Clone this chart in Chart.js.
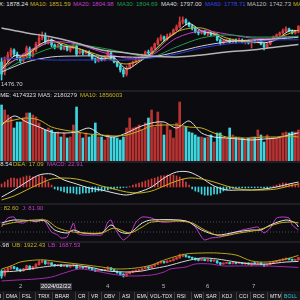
<!DOCTYPE html>
<html>
<head>
<meta charset="utf-8">
<title>K线</title>
<script src="https://cdn.jsdelivr.net/npm/chart.js@4.4.1/dist/chart.umd.min.js"></script>
<style>
html, body { margin: 0; padding: 0; background: #0c0c10; }
#box { position: relative; width: 300px; height: 300px; overflow: hidden; background: #0c0c10;
       font-family: "Liberation Sans", Arial, sans-serif; font-size: 6px; color: #e0e0e0; }
#box canvas { position: absolute; left: 0; }
.t { position: absolute; white-space: nowrap; line-height: 7px; height: 7px; }
.sep { position: absolute; left: 0; width: 300px; height: 2px; background: #1e1e24; }
#tabs { position: absolute; left: 0; top: 291px; width: 300px; height: 9px; background: #17171b; }
.tab { position: absolute; top: 2px; line-height: 7px; white-space: nowrap; color: #e8e8e8;
       transform: scaleX(0.86); transform-origin: 0 0; }
.tabsep { position: absolute; top: 1px; width: 1px; height: 8px; background: #3a3a42; }
</style>
</head>
<body>
<div id="box">
  <canvas id="cMain" width="300" height="76" style="top:12px"></canvas>
  <canvas id="cVol" width="300" height="61" style="top:100px"></canvas>
  <canvas id="cMacd" width="300" height="37" style="top:168px"></canvas>
  <canvas id="cKdj" width="300" height="29" style="top:212px"></canvas>
  <canvas id="cBoll" width="300" height="35" style="top:248px"></canvas>

  <div class="sep" style="top:90px"></div>
  <div class="sep" style="top:161px"></div>
  <div class="sep" style="top:203px"></div>
  <div class="sep" style="top:241px"></div>

  <div class="t" style="top:1px;left:-1px;color:#e0e0e0">X: 1878.24</div>
  <div class="t" style="top:1px;left:30px;color:#c8b21c">MA10: 1851.59</div>
  <div class="t" style="top:1px;left:73px;color:#c63ccc">MA20: 1804.98</div>
  <div class="t" style="top:1px;left:117px;color:#1f9e4a">MA30: 1804.69</div>
  <div class="t" style="top:1px;left:161px;color:#dcdcdc">MA40: 1797.00</div>
  <div class="t" style="top:1px;left:205px;color:#3344e0">MA60: 1778.71</div>
  <div class="t" style="top:1px;left:247px;color:#bdbdbd">MA120: 1742.73</div>
  <div class="t" style="top:1px;left:293px;color:#c8b21c">MA250:</div>
  <div class="t" style="top:81px;left:1px;color:#d0d0d0">1476.70</div>

  <div class="t" style="top:92px;left:-16px;color:#e0e0e0">VOLUME: 4174323</div>
  <div class="t" style="top:92px;left:38px;color:#d8d8d8">MA5: 2180279</div>
  <div class="t" style="top:92px;left:80px;color:#c8b21c">MA10: 1856003</div>

  <div class="t" style="top:161px;left:-16px;color:#e0e0e0">DIF: 28.54</div>
  <div class="t" style="top:161px;left:13px;color:#c8b21c">DEA: 17.09</div>
  <div class="t" style="top:161px;left:47px;color:#c63ccc">MACD: 22.91</div>

  <div class="t" style="top:205px;left:-4px;color:#c8b21c">D: 82.60</div>
  <div class="t" style="top:205px;left:22px;color:#c63ccc">J: 81.90</div>

  <div class="t" style="top:242px;left:-27px;color:#e0e0e0">MID: 1804.98</div>
  <div class="t" style="top:242px;left:12px;color:#c8b21c">UB: 1922.43</div>
  <div class="t" style="top:242px;left:48px;color:#c63ccc">LB: 1687.53</div>

  <div class="t" style="top:283px;left:19px;color:#b8b8b8">2</div>
  <div class="t" style="top:283px;left:40px;color:#f0f0f0;background:#3a3a42;padding:0 1px">2024/02/22</div>
  <div class="t" style="top:283px;left:106px;color:#b8b8b8">4</div>
  <div class="t" style="top:283px;left:162px;color:#b8b8b8">5</div>
  <div class="t" style="top:283px;left:206px;color:#b8b8b8">6</div>
  <div class="t" style="top:283px;left:252px;color:#b8b8b8">7</div>

  <div id="tabs"></div>
</div>
<script>
// daily candles, left to right
const opens = [1612,1537,1627,1665,1702,1672,1642,1627,1650,1710,1657,1702,1747,1792,1807,1762,1777,1740,1725,1740,
  1710,1725,1702,1717,1732,1680,1695,1680,1687,1665,1635,1620,1642,1627,1650,1680,1642,1612,1582,1552,
  1522,1567,1597,1612,1627,1642,1665,1687,1680,1717,1747,1777,1800,1785,1807,1822,1852,1875,1912,1927,
  1905,1882,1867,1837,1830,1845,1822,1830,1815,1815,1777,1755,1770,1777,1762,1777,1770,1777,1762,1770,
  1755,1770,1762,1777,1747,1725,1747,1777,1800,1815,1830,1845,1860,1845,1830,1837];
const closes = [1522,1627,1665,1702,1672,1642,1620,1657,1717,1657,1702,1747,1792,1815,1762,1777,1740,1725,1740,1710,
  1725,1702,1717,1732,1672,1695,1680,1687,1665,1635,1620,1642,1627,1650,1687,1642,1612,1582,1552,1522,
  1567,1597,1612,1627,1642,1665,1687,1680,1717,1747,1777,1800,1785,1807,1822,1852,1875,1912,1927,1905,
  1882,1867,1837,1830,1845,1822,1830,1815,1822,1777,1755,1770,1777,1762,1777,1770,1777,1762,1770,1755,
  1770,1762,1777,1747,1725,1747,1777,1800,1815,1830,1845,1860,1845,1830,1837,1878.24];
const highs = [1642,1650,1687,1717,1710,1687,1657,1672,1732,1725,1710,1762,1822,1837,1830,1800,1785,1747,1747,1747,
  1732,1732,1732,1747,1740,1702,1702,1695,1695,1672,1642,1650,1650,1657,1702,1687,1650,1620,1597,1567,
  1582,1605,1620,1642,1650,1672,1695,1702,1725,1755,1792,1815,1807,1822,1830,1860,1890,1950,1950,1935,
  1912,1890,1875,1852,1852,1852,1837,1837,1830,1822,1785,1777,1785,1785,1785,1785,1792,1785,1777,1777,
  1777,1777,1785,1785,1755,1755,1785,1807,1822,1837,1860,1875,1867,1852,1845,1885];
const lows = [1476.7,1515,1612,1650,1657,1627,1605,1612,1642,1642,1650,1687,1732,1777,1747,1747,1725,1710,1717,1702,
  1702,1695,1687,1710,1657,1672,1665,1672,1657,1627,1605,1612,1620,1620,1642,1635,1605,1575,1537,1500,
  1507,1560,1582,1605,1620,1635,1657,1665,1672,1710,1740,1770,1770,1777,1800,1815,1845,1867,1897,1890,
  1875,1852,1830,1815,1822,1815,1807,1807,1807,1770,1740,1747,1762,1755,1755,1755,1762,1755,1747,1747,
  1717,1755,1755,1740,1702,1717,1740,1770,1792,1807,1822,1837,1837,1822,1822,1830];
const volumes = [4340000,3952500,3565000,3332500,2557500,3022500,3022500,3332500,3720000,3720000,
  3565000,3410000,2945000,2557500,2402500,2557500,2402500,2170000,2247500,1860000,
  2170000,1782500,1860000,2790000,4185000,2170000,1782500,2170000,1860000,2015000,
  2945000,1860000,1860000,1627500,2015000,1860000,1860000,1782500,1627500,1860000,
  2557500,3332500,2557500,2635000,2790000,2402500,2945000,3332500,3952500,2635000,
  3797500,2945000,2015000,2790000,2402500,1782500,2945000,4572500,2635000,2635000,
  2247500,2170000,2015000,1860000,1860000,1782500,1860000,2015000,1472500,2170000,
  2170000,1860000,1782500,2557500,2015000,1860000,1860000,1782500,1627500,1782500,
  1860000,1860000,2402500,2015000,1472500,2015000,1782500,1782500,1782500,1782500,
  2170000,2247500,2170000,2247500,2247500,2402500];

// lines read every few bars
const quarterIdx = [0,4,8,12,16,20,24,28,32,36,40,44,48,52,56,60,64,68,72,76,80,84,88,92,95];
const longIdx = [0,8,16,24,32,40,48,56,64,72,80,88,95];
const ma5 = [1552,1657,1665,1740,1777,1732,1717,1680,1635,1642,1560,1612,1680,1770,1835,1900,1845,1822,1772,1772,1765,1756,1780,1845,1848];
const ma10 = [1575,1672,1762,1717,1657,1597,1672,1837,1867,1792,1762,1792,1851.59];
const ma20 = [1552,1687,1762,1747,1687,1642,1665,1792,1845,1822,1792,1792,1804.98];
const ma30 = [1537,1642,1717,1740,1717,1680,1650,1725,1792,1815,1800,1800,1804.69];
const ma40 = [1537,1612,1650,1657,1657,1650,1650,1687,1732,1762,1777,1785,1797.00];
const ma60 = [1642,1635,1627,1627,1627,1627,1642,1672,1717,1747,1762,1777,1778.71];
const ma120 = [1867,1830,1800,1755,1702,1680,1657,1650,1665,1687,1702,1725,1742.73];

const volMa5 = [2790000,3487500,3022500,2635000,2247500,2170000,2247500,2557500,2015000,1860000,2170000,2635000,2945000,
  3022500,2557500,3100000,2170000,1860000,1782500,1705000,1627500,1705000,1782500,2015000,2180279];
const volMa10 = [2945000,3177500,3332500,3177500,2635000,2402500,2247500,2092500,2015000,1937500,2015000,2325000,2712500,
  2790000,2790000,2635000,2557500,2170000,1860000,1782500,1782500,1860000,1860000,1937500,1856003];

const macdHist = [17,28,40,51,51,46,51,57,63,63,57,57,63,63,51,28,11,-11,-17,-23,
  -28,-34,-34,-34,-40,-40,-34,-34,-34,-28,-28,-23,-23,-17,-17,-11,-11,-6,-6,-3,
  -2,3,11,17,23,28,34,40,46,51,57,63,63,68,68,68,63,57,46,28,
  11,-11,-23,-28,-40,-46,-46,-46,-40,-40,-34,-23,-17,-11,-8,-6,-6,-5,-6,-5,
  -4,-5,-3,-4,-6,-4,-2,6,11,17,23,23,17,17,11,22.91];
const dif = [-57,-17.1,28.5,68.4,74.1,39.9,17.1,-5.7,-17.1,-34.2,-45.6,-28.5,0,51.3,85.5,85.5,51.3,5.7,-17.1,-17.1,-17.1,-11.4,0,17.1,28.54];
const dea = [-74.1,-51.3,-17.1,17.1,45.6,51.3,45.6,28.5,5.7,-11.4,-28.5,-34.2,-22.8,5.7,34.2,51.3,45.6,28.5,5.7,-11.4,-17.1,-17.1,-11.4,5.7,17.09];

const kIdx = [0,4,11,14,17,21,23,26,32,35,38,41,45,48,59,64,69,75,80,83,86,91,94,95];
const kVals = [74,92,86,86,32,14,32,14,14,62,20,14,74,92,86,32,2,20,32,32,62,92,74,50];
const dIdx = [0,5,14,18,23,32,36,41,45,48,60,65,70,76,82,89,93,95];
const dVals = [62,80,92,44,20,14,44,14,50,80,80,32,-4,14,32,74,80,74];
const jIdx = [0,2,4,5,7,9,11,13,14,16,18,19,21,23,24,26,30,32,33,34,35,36,38,39,41,43,45,48,51,54,
  57,60,62,64,65,67,70,74,77,80,82,84,86,88,90,92,93,95];
const jVals = [50,104,110,80,74,92,80,98,80,20,2,-16,-10,74,14,2,2,2,32,80,92,50,-10,-28,2,80,110,104,80,80,
  92,80,50,-10,-28,-16,-10,14,32,44,50,14,44,104,110,104,62,32];

const ubIdx = [0,3,6,11,14,19,27,32,37,43,48,53,59,64,69,75,80,85,91,95];
const ubVals = [1657,1716,1794,1833,1833,1794,1735,1696,1657,1676,1735,1853,1951,1970,1970,1931,1814,1794,1853,1922.43];
const midIdx = [0,5,11,16,21,28,34,41,45,48,53,59,64,69,75,80,85,91,95];
const midVals = [1598,1618,1676,1716,1735,1696,1618,1598,1618,1657,1716,1814,1872,1853,1794,1755,1755,1794,1804.98];
const lbIdx = [0,5,11,16,21,25,30,35,41,48,52,54,59,62,67,71,75,85,95];
const lbVals = [1422,1441,1461,1500,1598,1657,1618,1559,1520,1539,1598,1657,1696,1755,1755,1716,1716,1716,1687.53];

const tabNames = ['DMI','DMA','FSL','TRIX','BRAR','CR','VR','OBV','ASI','EMV','VOL-TDX','RSI','WR','SAR','KDJ','CCI','ROC','MTM','BOLL'];

const N = closes.length;
const bars = closes.map((c, i) => i);
const RED = '#d63b3b', CYAN = '#3dd5de', YELLOW = '#c8b21c', MAGENTA = '#c63ccc', WHITE = '#e4e4e4';
const upDown = closes.map((c, i) => c >= opens[i] ? RED : CYAN);
const volColors = closes.map((c, i) => c >= opens[i] ? '#b83232' : CYAN);

function pts(xs, ys) { return xs.map((x, k) => ({ x: x, y: ys[k] })); }

function line(xs, ys, color, width, tension) {
  return { type: 'line', data: pts(xs, ys), borderColor: color, borderWidth: width || 1,
           pointRadius: 0, tension: tension === undefined ? 0.3 : tension, order: 1 };
}

function candles() {
  return [
    { type: 'bar', data: bars.map(i => ({ x: i, y: [lows[i], highs[i]] })), backgroundColor: upDown,
      barThickness: 1, grouped: false, order: 3 },
    { type: 'bar', data: bars.map(i => ({ x: i, y: [opens[i], closes[i]] })), backgroundColor: upDown,
      barThickness: 2, minBarLength: 1, grouped: false, order: 2 }
  ];
}

function panel(id, datasets, min, max) {
  new Chart(document.getElementById(id), {
    type: 'bar',
    data: { datasets: datasets },
    options: {
      responsive: false, animation: false, events: [],
      layout: { padding: 0 },
      plugins: { legend: { display: false }, tooltip: { enabled: false } },
      scales: {
        x: { type: 'linear', display: false, offset: false, min: -0.5, max: N - 0.5 },
        y: { display: false, min: min, max: max }
      }
    }
  });
}

panel('cMain', [
  ...candles(),
  line(longIdx, ma120, '#b4b4b4', 1.5),
  line(longIdx, ma60, '#2c3ce0'),
  line(longIdx, ma40, '#cfcfcf'),
  line(longIdx, ma30, '#1f9e4a'),
  line(longIdx, ma20, MAGENTA),
  line(longIdx, ma10, YELLOW),
  line(quarterIdx, ma5, WHITE)
], 1417, 1987);

panel('cVol', [
  { type: 'bar', data: bars.map(i => ({ x: i, y: volumes[i] })), backgroundColor: volColors,
    barThickness: 2, grouped: false, order: 3 },
  line(quarterIdx, volMa10, YELLOW),
  line(quarterIdx, volMa5, WHITE)
], 0, 4727500);

panel('cMacd', [
  { type: 'bar', data: bars.map(i => ({ x: i, y: macdHist[i] })),
    backgroundColor: macdHist.map(v => v >= 0 ? RED : CYAN), barThickness: 1, grouped: false, order: 3 },
  line(quarterIdx, dea, YELLOW),
  line(quarterIdx, dif, WHITE)
], -102.6, 108.3);

const refLine = v => ({ type: 'line', data: [{ x: -0.5, y: v }, { x: N - 0.5, y: v }], borderColor: '#4a4a52',
  borderWidth: 1, borderDash: [1, 2], pointRadius: 0, order: 5 });

panel('cKdj', [
  refLine(80), refLine(20),
  line(dIdx, dVals, YELLOW),
  line(kIdx, kVals, WHITE),
  line(jIdx, jVals, MAGENTA, 1, 0.2)
], -34, 140);

panel('cBoll', [
  ...candles(),
  line(ubIdx, ubVals, '#b8a418'),
  line(midIdx, midVals, '#d8d8d8'),
  line(lbIdx, lbVals, '#a62ab0')
], 1382.4, 2068.4);

// tab strip at the bottom
const tabX = [-8,6,22,38,55,78,91,104,122,137,150,177,194,206,222,239,253,270,284];
const tabs = document.getElementById('tabs');
tabNames.forEach((name, k) => {
  const s = document.createElement('div');
  s.className = 'tab';
  s.style.left = tabX[k] + 'px';
  if (name === 'BOLL') s.style.color = '#2ec8d6';
  s.textContent = name;
  tabs.appendChild(s);
  if (k > 0) {
    const d = document.createElement('div');
    d.className = 'tabsep';
    d.style.left = (tabX[k] - 3) + 'px';
    tabs.appendChild(d);
  }
});
</script>
</body>
</html>
